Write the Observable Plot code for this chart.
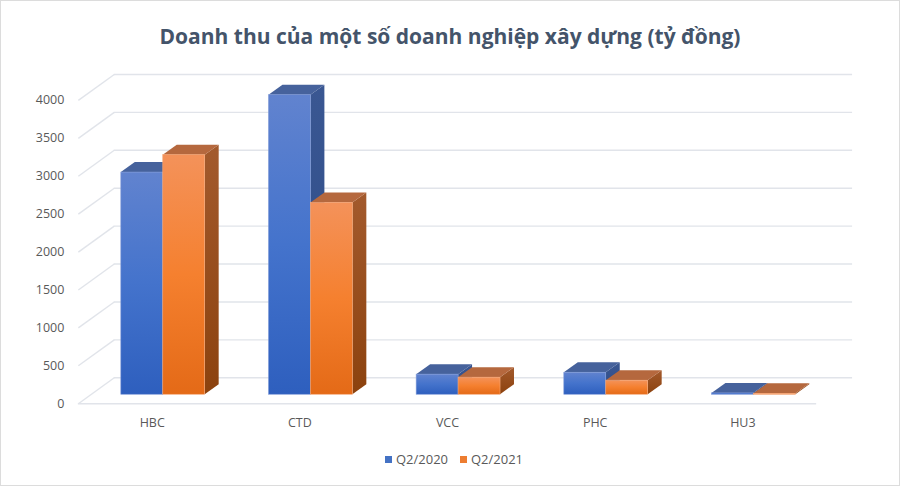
<!DOCTYPE html>
<html><head><meta charset="utf-8">
<script src="https://cdn.jsdelivr.net/npm/d3@7"></script>
<script src="https://cdn.jsdelivr.net/npm/@observablehq/plot@0.6"></script>
<style>
body{margin:0;background:#fff;}
#wrap{width:900px;height:486px;box-sizing:border-box;border:1px solid #dcdcdc;overflow:hidden;font-family:"Open Sans",sans-serif;background:#fff;}
#title{height:59px;box-sizing:border-box;padding-top:10px;display:flex;align-items:center;justify-content:center;font-size:21px;font-weight:700;color:#44546A;}
#chart svg{display:block;}
#legend{height:40px;display:flex;align-items:center;justify-content:center;padding-left:8px;font-size:13px;color:#595959;}
#legend span.sw{display:inline-block;width:7px;height:7px;margin-right:4px;}
#legend .item{display:flex;align-items:center;margin:0 6px;}
</style></head><body>
<div id="wrap">
  <div id="title">Doanh thu của một số doanh nghiệp xây dựng (tỷ đồng)</div>
  <div id="chart"></div>
  <div id="legend"></div>
</div>
<script>
const categories = ["HBC", "CTD", "VCC", "PHC", "HU3"];
const seriesNames = ["Q2/2020", "Q2/2021"];
const q2_2020 = [2930, 3950, 265, 290, 18];
const q2_2021 = [3160, 2530, 225, 185, 12];
const yTicks = [0, 500, 1000, 1500, 2000, 2500, 3000, 3500, 4000];
const seriesColors = ["#4472C4", "#ED7D31"];

// layout / style constants (pixels)
const W = 900, H = 380, mL = 77, mR = 83, mT = 40, mB = 36;
const xPx = (W - mL - mR) / categories.length;   // px per x unit
const yPx = (H - mT - mB) / 4000;                  // px per value unit
const back = {dx: 36, dy: -26};                    // depth of the back wall
const shift = {dx: 12, dy: -9};                    // bars' front plane
const depth = {dx: 14, dy: -10};                   // bars' own depth
const groupStart = 0.21, barW = 0.284;

const values = [q2_2020, q2_2021];
const bars = [];
categories.forEach((c, i) => {
  values.forEach((vals, s) => {
    const x1 = i + groupStart + s * barW;
    bars.push({id: c + s, cat: c, s, v: vals[i], x1, x2: x1 + barW});
  });
});
const ddx = depth.dx / xPx, ddy = -depth.dy / yPx;
const sides = bars.flatMap(b => [
  {id: b.id, s: b.s, x: b.x2, y1: 0, y2: b.v},
  {id: b.id, s: b.s, x: b.x2 + ddx, y1: ddy, y2: b.v + ddy}
]);
const tops = bars.flatMap(b => [
  {id: b.id, s: b.s, y: b.v, x1: b.x1, x2: b.x2},
  {id: b.id, s: b.s, y: b.v + ddy, x1: b.x1 + ddx, x2: b.x2 + ddx}
]);
const grid = "#e1e4ea";

const svg = Plot.plot({
  width: W, height: H,
  marginLeft: mL, marginRight: mR, marginTop: mT, marginBottom: mB,
  x: {domain: [0, categories.length]},
  y: {domain: [0, 4000]},
  style: {color: "#595959", fontFamily: "Open Sans, sans-serif", fontSize: "12.5px", background: "transparent", overflow: "visible"},
  marks: [
    Plot.ruleY(yTicks, {x1: 0, x2: categories.length, dx: back.dx, dy: back.dy, stroke: grid, strokeWidth: 1.4}),
    Plot.link(yTicks, {x1: 0, y1: d => d, x2: back.dx / xPx, y2: d => d - back.dy / yPx, stroke: grid, strokeWidth: 1.4}),
    Plot.ruleY([0], {x1: 0, x2: categories.length, stroke: grid, strokeWidth: 1.6}),
    Plot.areaY(sides.filter(d => d.s === 0), {x: "x", y1: "y1", y2: "y2", z: "id", fill: "url(#sideBlue)", dx: shift.dx, dy: shift.dy}),
    Plot.areaY(sides.filter(d => d.s === 1), {x: "x", y1: "y1", y2: "y2", z: "id", fill: "url(#sideOrange)", dx: shift.dx, dy: shift.dy}),
    Plot.areaX(tops.filter(d => d.s === 0), {y: "y", x1: "x1", x2: "x2", z: "id", fill: "#46629C", dx: shift.dx, dy: shift.dy}),
    Plot.areaX(tops.filter(d => d.s === 1), {y: "y", x1: "x1", x2: "x2", z: "id", fill: "#B5683E", dx: shift.dx, dy: shift.dy}),
    Plot.rect(bars.filter(d => d.s === 0), {x1: "x1", x2: "x2", y1: 0, y2: "v", fill: "url(#frontBlue)", stroke: "#7f9ad8", strokeWidth: 0.6, dx: shift.dx, dy: shift.dy}),
    Plot.rect(bars.filter(d => d.s === 1), {x1: "x1", x2: "x2", y1: 0, y2: "v", fill: "url(#frontOrange)", stroke: "#f6a777", strokeWidth: 0.6, dx: shift.dx, dy: shift.dy}),
    Plot.axisY(yTicks, {tickSize: 0, tickPadding: 14, label: null, fontSize: 12.5, tickFormat: d => String(d)}),
    Plot.axisX(categories.map((_, i) => i + 0.5), {tickSize: 0, tickPadding: 14, label: null, fontSize: 12.5,
      tickFormat: d => categories[Math.round(d - 0.5)]})
  ]
});

const defs = d3.select(svg).insert("defs", ":first-child");
function grad(id, stops) {
  const g = defs.append("linearGradient").attr("id", id).attr("x1", 0).attr("y1", 0).attr("x2", 0).attr("y2", 1);
  stops.forEach(([o, c]) => g.append("stop").attr("offset", o).attr("stop-color", c));
}
grad("frontBlue", [[0, "#6183CF"], [0.5, "#4473CC"], [1, "#2E5FBE"]]);
grad("frontOrange", [[0, "#F4925A"], [0.5, "#F5802F"], [1, "#E46A17"]]);
grad("sideBlue", [[0, "#3A5792"], [1, "#2C4B88"]]);
grad("sideOrange", [[0, "#A35A2D"], [1, "#8C420E"]]);

document.getElementById("chart").appendChild(svg);

const legend = document.getElementById("legend");
seriesNames.forEach((n, i) => {
  const it = document.createElement("div");
  it.className = "item";
  it.innerHTML = `<span class="sw" style="background:${seriesColors[i]}"></span>${n}`;
  legend.appendChild(it);
});
</script>
</body></html>
